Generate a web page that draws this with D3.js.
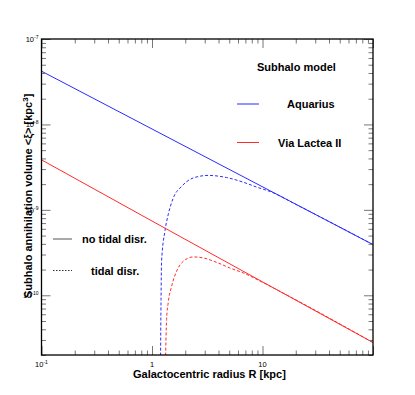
<!DOCTYPE html>
<html>
<head>
<meta charset="utf-8">
<script src="https://cdn.jsdelivr.net/npm/d3@7"></script>
<style>
  body { margin: 0; background: #fff; }
  text { font-family: "Liberation Sans", Arial, sans-serif; }
</style>
</head>
<body>
<svg id="chart" width="415" height="395"></svg>
<script>
"use strict";

// Rayon galactocentrique R [kpc] et volume d'annihilation <xi> [kpc^3]
var aquariusRadius = [0.1, 100]
var aquariusVolume = [4.2e-8, 3.92e-10]
var viaLacteaRadius = [0.1, 1, 100]
var viaLacteaVolume = [3.85e-9, 7.4e-10, 2.8e-11]

// avec destruction par effets de marée
var aquariusTidalRadius = [1.194, 1.207, 1.221, 1.308, 1.401, 1.555, 1.852, 2.358, 3.223, 4.727, 6.677, 8.83, 12, 20, 100]
var aquariusTidalVolume = [1.5e-11, 8.9e-11, 2.5e-10, 5.6e-10, 8.77e-10, 1.37e-9, 1.88e-9, 2.36e-9, 2.53e-9, 2.39e-9, 2.11e-9, 1.85e-9, 1.62e-9, 1.16e-9, 3.92e-10]
var viaLacteaTidalRadius = [1.322, 1.355, 1.401, 1.504, 1.669, 1.915, 2.358, 2.904, 3.837, 5.06, 6.68, 10, 15, 100]
var viaLacteaTidalVolume = [1.5e-11, 5.2e-11, 8.15e-11, 1.27e-10, 1.91e-10, 2.49e-10, 2.81e-10, 2.74e-10, 2.43e-10, 2.09e-10, 1.83e-10, 1.42e-10, 1.08e-10, 2.8e-11]

// graduations
var xMajorTicks = [0.1, 1, 10, 100]
var xMinorTicks = [0.2, 0.3, 0.4, 0.5, 0.6, 0.7, 0.8, 0.9, 2, 3, 4, 5, 6, 7, 8, 9, 20, 30, 40, 50, 60, 70, 80, 90]
var xLabelValues = [0.1, 1, 10]
var xLabelBases = ["10", "1", "10"]
var xLabelExps = ["-1", "", ""]
var yMajorTicks = [1e-10, 1e-9, 1e-8, 1e-7]
var yMinorTicks = [2e-11, 3e-11, 4e-11, 5e-11, 6e-11, 7e-11, 8e-11, 9e-11,
                   2e-10, 3e-10, 4e-10, 5e-10, 6e-10, 7e-10, 8e-10, 9e-10,
                   2e-9, 3e-9, 4e-9, 5e-9, 6e-9, 7e-9, 8e-9, 9e-9,
                   2e-8, 3e-8, 4e-8, 5e-8, 6e-8, 7e-8, 8e-8, 9e-8]
var yLabelValues = [1e-7, 1e-8, 1e-9, 1e-10]
var yLabelExps = ["-7", "-8", "-9", "-10"]

var blue = "#2b2bff"
var red = "#ff2b2b"

var svg = d3.select("#chart")
var frame = { left: 41.5, right: 373, top: 39, bottom: 355 }

var x = d3.scaleLog().domain([0.1, 100]).range([frame.left, frame.right])
var y = d3.scaleLog().domain([2e-11, 1e-7]).range([frame.bottom, frame.top])

function toPoints(radius, volume) {
    return radius.map((r, i) => ({ r: r, v: volume[i] }))
}

var line = d3.line()
    .x(d => x(d.r))
    .y(d => y(d.v))
    .curve(d3.curveMonotoneX)

svg.append("clipPath").attr("id", "clip")
  .append("rect")
    .attr("x", frame.left).attr("y", frame.top)
    .attr("width", frame.right - frame.left).attr("height", frame.bottom - frame.top)

var plot = svg.append("g").attr("clip-path", "url(#clip)")

function drawCurve(radius, volume, color, dashed) {
    plot.append("path")
      .datum(toPoints(radius, volume))
      .attr("d", line)
      .attr("fill", "none")
      .attr("stroke", color)
      .attr("stroke-width", 1)
      .attr("stroke-dasharray", dashed ? "3,2" : null)
}

drawCurve(aquariusTidalRadius, aquariusTidalVolume, blue, true)
drawCurve(viaLacteaTidalRadius, viaLacteaTidalVolume, red, true)
drawCurve(aquariusRadius, aquariusVolume, blue, false)
drawCurve(viaLacteaRadius, viaLacteaVolume, red, false)

// axes style ROOT : graduations vers l'intérieur, sur les 4 côtés
function tickAxis(axisFn, scale, values, size, transform) {
    var g = svg.append("g")
      .attr("transform", transform)
      .call(axisFn(scale).tickValues(values).tickSize(size).tickFormat(""))
    g.select(".domain").remove()
    g.selectAll("line").attr("stroke", "#777")
}

tickAxis(d3.axisBottom, x, xMajorTicks, -9, "translate(0," + frame.bottom + ")")
tickAxis(d3.axisBottom, x, xMinorTicks, -4.5, "translate(0," + frame.bottom + ")")
tickAxis(d3.axisTop, x, xMajorTicks, -9, "translate(0," + frame.top + ")")
tickAxis(d3.axisTop, x, xMinorTicks, -4.5, "translate(0," + frame.top + ")")
tickAxis(d3.axisLeft, y, yMajorTicks, -9, "translate(" + frame.left + ",0)")
tickAxis(d3.axisLeft, y, yMinorTicks, -4.5, "translate(" + frame.left + ",0)")
tickAxis(d3.axisRight, y, yMajorTicks, -9, "translate(" + frame.right + ",0)")
tickAxis(d3.axisRight, y, yMinorTicks, -4.5, "translate(" + frame.right + ",0)")

svg.append("rect")
    .attr("x", frame.left).attr("y", frame.top)
    .attr("width", frame.right - frame.left).attr("height", frame.bottom - frame.top)
    .attr("fill", "none")
    .attr("stroke", "#000")
    .attr("stroke-width", 1.3)

// étiquettes des graduations
var xLabels = svg.append("g")
xLabelValues.forEach((v, i) => {
    var t = xLabels.append("text")
      .attr("x", x(v))
      .attr("y", frame.bottom + 12)
      .attr("text-anchor", "middle")
      .attr("font-size", 7.5)
      .text(xLabelBases[i])
    if (xLabelExps[i]) {
        t.append("tspan").attr("dy", -3).attr("font-size", 5).text(xLabelExps[i])
    }
})

var yLabels = svg.append("g")
yLabelValues.forEach((v, i) => {
    yLabels.append("text")
      .attr("x", frame.left - 3)
      .attr("y", y(v) + 3)
      .attr("text-anchor", "end")
      .attr("font-size", 7.5)
      .text("10")
      .append("tspan").attr("dy", -3).attr("font-size", 5).text(yLabelExps[i])
})

// titres des axes
svg.append("text")
    .attr("x", 133)
    .attr("y", 378)
    .attr("font-size", 11)
    .attr("font-weight", "bold")
    .text("Galactocentric radius R [kpc]")

var yTitle = svg.append("text")
    .attr("transform", "translate(32,298) rotate(-90)")
    .attr("font-size", 11)
    .attr("font-weight", "bold")
    .text("Subhalo annihilation volume <ξ> [kpc")
yTitle.append("tspan").attr("dy", -4).attr("font-size", 8).text("3")
yTitle.append("tspan").attr("dy", 4).text("]")

// légendes
function legendEntry(x1, x2, yLine, tx, ty, label, color, dash) {
    svg.append("line")
      .attr("x1", x1).attr("x2", x2)
      .attr("y1", yLine).attr("y2", yLine)
      .attr("stroke", color)
      .attr("stroke-width", 1)
      .attr("stroke-dasharray", dash)
    svg.append("text")
      .attr("x", tx).attr("y", ty)
      .attr("font-size", 11)
      .attr("font-weight", "bold")
      .text(label)
}

svg.append("text")
    .attr("x", 257).attr("y", 71)
    .attr("font-size", 11)
    .attr("font-weight", "bold")
    .text("Subhalo model")
legendEntry(237, 259, 104, 287, 108, "Aquarius", blue, null)
legendEntry(237, 259, 142.5, 278, 147, "Via Lactea II", red, null)
legendEntry(53, 72, 239, 82, 243, "no tidal disr.", "#555", null)
legendEntry(53, 72, 270.5, 91, 275, "tidal disr.", "#333", "1.5,1.5")
</script>
</body>
</html>
